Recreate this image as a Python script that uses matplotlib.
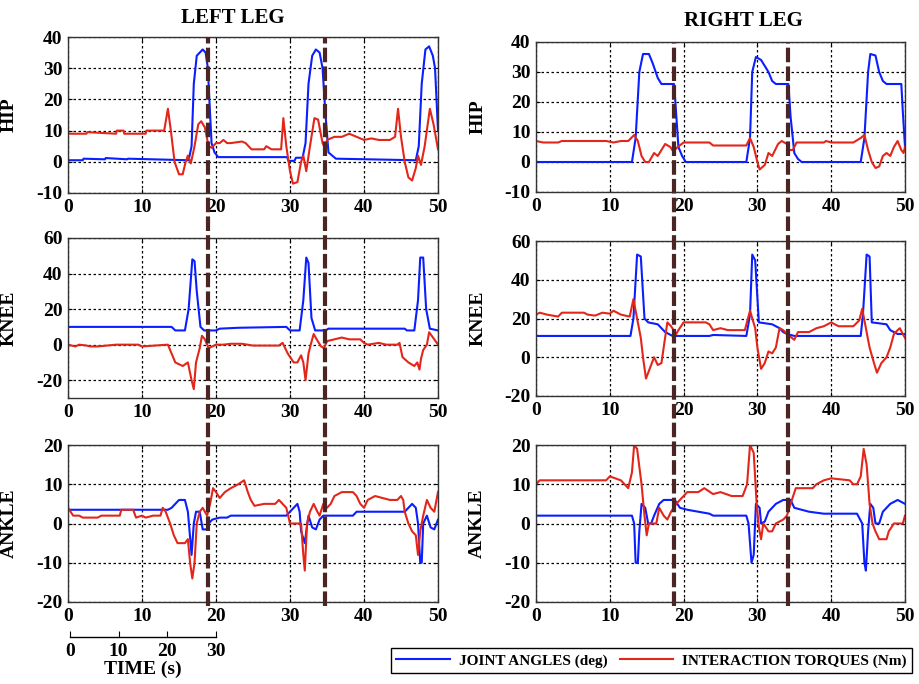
import matplotlib.pyplot as plt
from matplotlib.lines import Line2D

plt.rcParams['font.family'] = ['Liberation Serif', 'DejaVu Serif']
plt.rcParams['font.weight'] = 'bold'
plt.rcParams['axes.unicode_minus'] = False

BLUE = '#0a1eff'
RED = '#e3261a'
MARK = '#4b2424'

# ---- LEFT LEG ----
lhip_ang_t = [0, 2, 2.1, 5, 5.1, 8, 8.1, 16.3, 16.7, 17.0, 17.4, 18.2, 18.6, 18.9, 19.1, 19.4, 19.8, 20.3, 29.6, 29.8, 30.6, 30.8, 31.7, 32.1, 32.5, 33.0, 33.5, 34.0, 34.4, 34.8, 35.2, 36.2, 47.0, 47.4, 47.8, 48.3, 48.8, 49.3, 49.6, 49.8, 50]
lhip_ang_v = [0.5, 0.5, 1.0, 0.8, 1.2, 0.8, 1.0, 0.5, 5, 25, 34, 36, 35, 30, 20, 6, 3, 1.5, 1.5, 0.3, 0.3, 1.3, 1.3, 6, 25, 34, 36, 35, 30, 15, 3, 1, 0.5, 5, 25, 36, 37, 34, 30, 20, 10]
lhip_tor_t = [0, 2.5, 2.6, 6.5, 6.6, 7.5, 7.6, 10.5, 10.6, 13.0, 13.5, 13.9, 14.4, 15.0, 15.5, 15.9, 16.2, 16.6, 17.1, 17.6, 18.0, 18.5, 19.0, 19.4, 20.0, 20.5, 21.0, 21.5, 22.0, 23.5, 24.0, 24.8, 26.5, 26.8, 27.5, 28.8, 29.1, 29.5, 30.0, 30.4, 31.0, 31.5, 31.8, 32.2, 32.7, 33.3, 33.8, 34.4, 34.8, 35.0, 36.0, 37.0, 38.0, 39.0, 40.0, 41.0, 42.0, 43.5, 44.2, 44.6, 45.0, 45.5, 46.0, 46.5, 47.0, 47.3, 47.7, 48.2, 48.9, 49.4, 50]
lhip_tor_v = [9, 9, 9.5, 9, 10, 10, 9, 9, 10, 10, 17, 10, 0, -4, -4, 0, 2, -0.5, 5, 12, 13, 11, 5, 4.5, 6, 6, 7, 6, 6, 6.5, 6, 4, 4, 5, 4, 4, 14, 5, -3, -7, -6.5, 0, 2, -3, 5, 14, 13.5, 6, 4, 7, 8, 8, 9, 8, 7, 7.5, 7, 7, 8, 17, 8, 0, -5, -6, -2, 2, -1, 5, 17, 12, 4]
lknee_ang_t = [0, 14.0, 14.5, 15.8, 16.3, 16.8, 17.1, 17.4, 17.9, 18.4, 20.0, 20.5, 23.0, 29.5, 30.0, 31.3, 31.8, 32.2, 32.5, 32.9, 33.4, 34.8, 35.2, 45.5, 45.8, 46.8, 47.3, 47.6, 48.0, 48.4, 48.9, 50]
lknee_ang_v = [10, 10, 8, 8, 20, 48, 47, 30, 10, 8, 8, 9, 9.5, 10, 8, 8, 25, 49, 46, 15, 8, 8, 9, 9, 8, 8, 25, 49, 49, 20, 9, 8]
lknee_tor_t = [0, 1, 1.5, 2.5, 3, 4, 6.5, 9.5, 10, 13.5, 14.0, 14.5, 15.5, 16.2, 16.7, 17.0, 17.3, 17.8, 18.1, 18.5, 19.0, 20.0, 21.0, 22.0, 23.5, 25.0, 28.5, 29.0, 29.7, 30.5, 31.0, 31.5, 31.8, 32.1, 32.5, 32.8, 33.2, 33.6, 34.2, 34.6, 35.0, 36.0, 37.0, 38.0, 39.5, 40.0, 40.5, 42.0, 43.0, 44.5, 44.8, 45.2, 46.0, 46.8, 47.2, 47.5, 47.7, 48.0, 48.5, 48.8, 49.5, 50]
lknee_tor_v = [0, -1, 0, -0.5, -1, -1, 0, 0, -1, 0, -5, -10, -12, -10, -20, -25, -10, -2, 5, 3, -2, 0, 0, 0.5, 0.5, -0.5, -0.5, 1, -5, -10, -10, -6, -10, -20, -5, 0, 6, 3, -1, -2, 2, 3, 4, 3, 3, 1, 0, 1, 0, 0, 1, -7, -10, -12, -10, -14, -8, -3, 0, 7, 3, 0]
lankle_ang_t = [0, 13.5, 14.0, 15.0, 15.8, 16.2, 16.7, 17.0, 17.3, 17.8, 18.2, 18.8, 19.0, 19.5, 20.5, 21.5, 22.0, 29.5, 30.0, 31.0, 31.3, 31.5, 32.0, 32.2, 32.5, 33.0, 33.5, 34.0, 34.5, 38.5, 39.0, 45.5, 46.0, 46.5, 47.0, 47.3, 47.6, 47.8, 48.0, 48.5, 49.0, 49.5, 50]
lankle_ang_v = [3.5, 3.5, 4, 6, 6, 3, -8, 0, 3, 3, -1.5, -1.5, 0, 1, 1.5, 1.5, 2, 2, 3, 5, 3, -2, -5, -2, 2, -1, -1.5, 1, 2, 2, 3, 3, 4, 5, 4, 0, -10, -10, 0, 2, -1, -1.5, 1]
lankle_tor_t = [0, 0.7, 1.5, 2.0, 4.0, 4.5, 7.0, 7.2, 8.8, 9.2, 10.0, 10.5, 11.5, 12.5, 12.8, 13.2, 13.8, 14.3, 14.8, 15.8, 16.2, 16.5, 16.8, 17.1, 17.4, 17.8, 18.2, 18.8, 19.2, 19.6, 20.0, 20.5, 21.2, 22.0, 23.0, 23.8, 24.3, 24.7, 25.2, 26.5, 28.0, 28.5, 29.5, 30.0, 31.5, 31.8, 32.0, 32.3, 32.7, 33.2, 33.7, 34.0, 34.5, 35.0, 35.5, 36.0, 37.0, 38.5, 39.0, 39.5, 40.0, 40.5, 41.5, 42.5, 43.5, 44.5, 45.0, 45.3, 45.5, 46.0, 46.5, 47.0, 47.3, 47.6, 48.0, 48.5, 49.0, 49.5, 50]
lankle_tor_v = [4, 2, 2, 1.5, 1.5, 2, 2, 3.5, 3.5, 1.5, 2, 1.5, 2, 2, 4, 3, 0, -3, -5, -5, -4, -10, -14, -10, 0, 3, 4, 2, 5, 9, 8, 6.5, 8, 9, 10, 11, 8, 6, 4.5, 5, 5, 6, 4, 0, 0, -8, -12, 0, 3, 5, 3, 2, 5, 4, 5, 7, 8, 8, 7, 5, 4, 6, 7, 6.5, 6, 6, 7, 6, 3, 0, -2, -3, -8, -2, 2, 6, 4, 3, 8]

# ---- RIGHT LEG ----
rhip_ang_t = [0, 13.0, 13.5, 14.0, 14.5, 15.3, 15.8, 16.5, 17.0, 18.7, 18.8, 19.3, 19.8, 20.3, 28.5, 29.0, 29.3, 29.8, 30.5, 31.5, 32.0, 32.5, 34.2, 34.5, 35.0, 35.5, 36.0, 44.0, 44.5, 45.0, 45.3, 46.0, 46.5, 47.0, 47.5, 49.5, 49.7, 50]
rhip_ang_v = [0, 0, 8, 30, 36, 36, 33, 28, 26, 26, 23, 5, 2, 0, 0, 8, 30, 35, 34, 30, 27, 26, 26, 15, 3, 1, 0, 0, 8, 30, 36, 35.5, 30, 27, 26, 26, 17, 5]
rhip_tor_t = [0, 1.0, 3.0, 3.5, 9.5, 10.5, 11.5, 12.5, 13.3, 13.8, 14.3, 14.8, 15.3, 16.0, 16.5, 17.0, 17.5, 18.2, 18.6, 19.2, 20.0, 23.5, 24.0, 28.5, 29.0, 29.5, 30.0, 30.3, 31.0, 31.5, 32.0, 32.8, 33.3, 34.0, 34.3, 34.8, 35.3, 39.0, 39.3, 40.0, 43.0, 44.0, 44.5, 45.0, 45.5, 46.0, 46.5, 47.0, 47.5, 48.0, 48.5, 49.0, 49.5, 49.8, 50]
rhip_tor_v = [7, 6.5, 6.5, 7, 7, 6.5, 7, 7, 9, 7, 2, 0, 0, 3, 2, 4, 6, 5, 3.5, 5, 6.5, 6.5, 5.5, 5.5, 8, 5, 0, -2.5, -1, 3, 2, 6, 7, 6, 4, 4, 6.5, 6.5, 7, 6.5, 6.5, 8, 9, 4, 0, -2, -1.5, 2, 3, 2, 5, 7, 4, 3, 5]
rknee_ang_t = [0, 12.8, 13.2, 13.7, 14.2, 14.7, 15.2, 16.5, 17.0, 17.5, 18.0, 18.5, 23.5, 24.0, 28.5, 29.0, 29.3, 29.7, 30.2, 32.0, 33.0, 33.5, 34.0, 35.0, 44.0, 44.3, 44.8, 45.2, 45.5, 47.5, 48.0, 49.0, 50]
rknee_ang_v = [11, 11, 20, 53, 52, 20, 18, 17, 15, 13, 12, 11, 11, 11.5, 11, 22, 53, 50, 18, 17, 15, 13, 12, 11, 11, 22, 53, 52, 18, 17, 14, 12, 12]
rknee_tor_t = [0, 0.5, 1.5, 3.0, 3.5, 6.5, 7.0, 8.0, 9.0, 10.0, 10.5, 11.5, 12.7, 13.2, 13.7, 14.2, 14.5, 14.9, 15.5, 16.0, 16.5, 17.0, 17.3, 17.8, 18.3, 19.0, 19.3, 20.0, 23.0, 23.5, 24.0, 25.0, 26.0, 28.3, 29.0, 29.7, 30.0, 30.5, 31.0, 31.5, 32.0, 32.5, 33.0, 33.5, 34.0, 35.0, 35.5, 37.0, 38.0, 39.0, 40.0, 41.0, 43.0, 43.8, 44.2, 44.7, 45.2, 45.8, 46.2, 46.8, 47.5, 48.0, 48.5, 49.0, 49.3, 49.7, 50]
rknee_tor_v = [22, 23, 22, 21, 23, 23, 22, 21.5, 23, 22.5, 24, 22, 21, 30, 20, 10, 0, -11, -5, 0, -4, -3, 5, 18, 16, 12, 14, 18, 18, 17, 14, 15, 14, 14, 24, 15, 5, -6, -3, 3, 2, 5, 15, 14, 12, 9, 13, 13, 15, 16, 18, 16, 16, 19, 25, 15, 5, -3, -8, -3, 0, 5, 12, 14, 15, 12, 10]
rankle_ang_t = [0, 13.0, 13.3, 13.5, 13.8, 14.0, 14.3, 14.8, 15.2, 15.6, 16.0, 16.7, 17.3, 18.8, 19.5, 20.5, 22.0, 23.5, 24.0, 28.5, 28.8, 29.2, 29.5, 29.8, 30.3, 30.5, 31.0, 31.5, 32.5, 33.5, 34.5, 35.0, 37.0, 39.0, 43.5, 44.2, 44.5, 44.7, 45.0, 45.3, 45.7, 46.0, 46.5, 47.0, 48.0, 49.0, 50]
rankle_ang_v = [2, 2, 0, -10, -10, -2, 5, 4, 0, 0, 2, 5, 6, 6, 4, 3.5, 3, 2.5, 2, 2, 0, -10, -8, 5, 4, 0, 0.5, 3, 5, 6, 6, 4, 3, 2.5, 2.5, 0, -10, -12, -2, 5, 4, 0, 0, 3, 5, 6, 5]
rankle_tor_t = [0, 0.5, 9.5, 10.0, 11.5, 12.5, 13.0, 13.3, 13.7, 14.3, 14.7, 15.0, 15.3, 16.3, 16.7, 17.3, 17.8, 18.3, 19.0, 20.0, 20.5, 22.0, 22.8, 24.0, 25.0, 26.5, 28.0, 28.6, 29.0, 29.5, 29.9, 30.2, 30.5, 30.8, 31.5, 32.0, 32.5, 33.5, 34.0, 34.5, 35.2, 37.5, 38.0, 39.0, 40.0, 42.5, 43.0, 43.5, 44.0, 44.4, 44.8, 45.2, 45.6, 46.0, 46.5, 47.5, 47.8, 48.5, 49.7, 50]
rankle_tor_v = [10, 11, 11, 12, 11, 9, 13, 20, 19, 10, 2, -3, 0, 0, 4, 2, 1, 3, 5, 7, 8, 8, 9, 7.5, 8, 7, 7, 10, 20, 18, 5, -1, -4, 0, -2, -2, 0, 1, 2, 5, 9, 9, 10, 11, 11.5, 11, 10, 10, 12, 19, 15, 5, 0, -2, -4, -4, -2, 0, 0, 2]

# event markers (s) for each leg
left_marks = [18.9, 34.7]
right_marks = [18.7, 34.2]

W, H = 919, 684
fig = plt.figure(figsize=(W / 100, H / 100), dpi=100)


def px(x0, top, x1, bottom):
    return [x0 / W, 1 - bottom / H, (x1 - x0) / W, (bottom - top) / H]


panels = [
    (px(68, 37, 438, 193), lhip_ang_t, lhip_ang_v, lhip_tor_t, lhip_tor_v, (-10, 40), [-10, 0, 10, 20, 30, 40], 'HIP'),
    (px(68, 238, 438, 398), lknee_ang_t, lknee_ang_v, lknee_tor_t, lknee_tor_v, (-30, 60), [-20, 0, 20, 40, 60], 'KNEE'),
    (px(68, 445, 438, 602), lankle_ang_t, lankle_ang_v, lankle_tor_t, lankle_tor_v, (-20, 20), [-20, -10, 0, 10, 20], 'ANKLE'),
    (px(536, 42, 905, 192), rhip_ang_t, rhip_ang_v, rhip_tor_t, rhip_tor_v, (-10, 40), [-10, 0, 10, 20, 30, 40], 'HIP'),
    (px(536, 241, 905, 396), rknee_ang_t, rknee_ang_v, rknee_tor_t, rknee_tor_v, (-20, 60), [-20, 0, 20, 40, 60], 'KNEE'),
    (px(536, 445, 905, 602), rankle_ang_t, rankle_ang_v, rankle_tor_t, rankle_tor_v, (-20, 20), [-20, -10, 0, 10, 20], 'ANKLE'),
]

axes = []
for pos, at, av, tt, tv, ylim, yt, name in panels:
    ax = fig.add_axes(pos)
    ax.plot(at, av, color=BLUE, lw=1.5)
    ax.plot(tt, tv, color=RED, lw=1.5)
    ax.set_xlim(0, 50)
    ax.set_ylim(*ylim)
    ax.set_xticks([0, 10, 20, 30, 40, 50])
    ax.set_yticks(yt)
    ax.grid(True, color='black', linestyle=(0, (2, 2)), lw=0.9)
    ax.tick_params(direction='in', length=3, labelsize=14, pad=4, top=True, right=True)
    for s in ax.spines.values():
        s.set_color('#333333')
        s.set_linewidth(1)
    ax.set_ylabel(name, fontsize=14, fontweight='bold')
    ax.yaxis.set_label_coords(-0.135, 0.5)
    axes.append(ax)

fig.text(233 / W, 1 - 18 / H, 'LEFT LEG', ha='center', va='center', fontsize=15, fontweight='bold')
fig.text(743 / W, 1 - 21 / H, 'RIGHT LEG', ha='center', va='center', fontsize=15, fontweight='bold')

# vertical event markers across the three panels of each leg
inv = fig.transFigure.inverted()
for marks, top_ax, bot_ax in [(left_marks, axes[0], axes[2]), (right_marks, axes[3], axes[5])]:
    ytop = top_ax.get_position().y1
    ybot = bot_ax.get_position().y0 - 4 / H
    for m in marks:
        xf = inv.transform(top_ax.transData.transform((m, 0)))[0]
        fig.add_artist(Line2D([xf, xf], [ybot, ytop], transform=fig.transFigure,
                              color=MARK, lw=3, linestyle=(0, (3.5, 1))))

# time scale bar
tax = fig.add_axes([70 / W, 1 - 637 / H, 146 / W, 0.001])
tax.set_xlim(0, 30)
tax.set_xticks([0, 10, 20, 30])
tax.set_yticks([])
for k in ['top', 'left', 'right']:
    tax.spines[k].set_visible(False)
tax.spines['bottom'].set_linewidth(1)
tax.tick_params(axis='x', direction='in', length=4, labelsize=14, pad=4)
tax.set_xlabel('TIME (s)', fontsize=14, fontweight='bold', labelpad=1)
tax.patch.set_visible(False)

handles = [Line2D([], [], color=BLUE, lw=1.5), Line2D([], [], color=RED, lw=1.5)]
leg = fig.legend(handles, ['JOINT ANGLES (deg)', 'INTERACTION TORQUES (Nm)'],
                 loc='lower right', bbox_to_anchor=(912 / W, 11 / H), ncol=2,
                 fontsize=11, handlelength=3.5, borderaxespad=0, fancybox=False,
                 edgecolor='black', framealpha=1, columnspacing=0.8, handletextpad=0.6,
                 borderpad=0.35)
leg.get_frame().set_linewidth(1)

plt.savefig('out.png', dpi=100)
